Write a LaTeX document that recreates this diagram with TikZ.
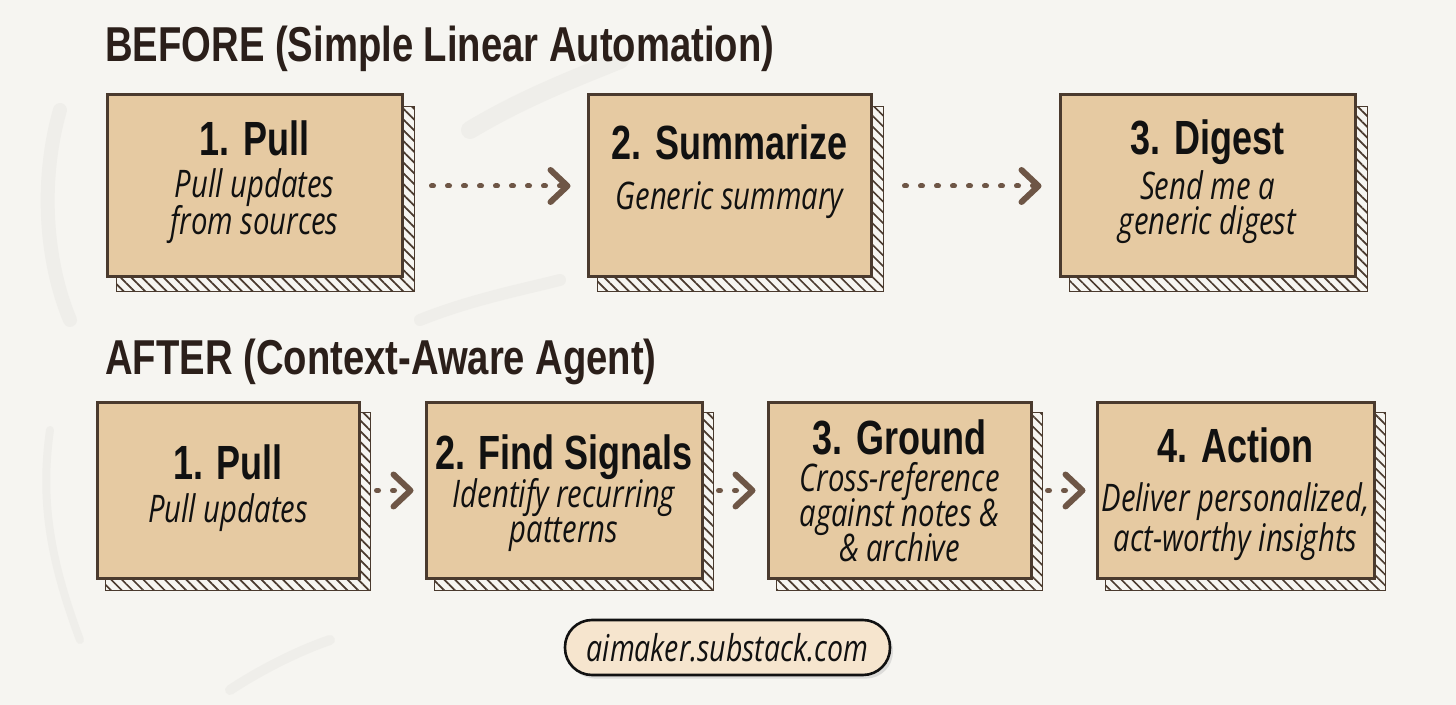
\documentclass[tikz,border=0pt]{standalone}
\usepackage{fontspec}
\newfontfamily\headfont[FakeStretch=0.78]{Liberation Sans}
\newfontfamily\boxheadfont[FakeStretch=0.75]{Liberation Sans}
\newfontfamily\handfont[FakeStretch=0.77]{Open Sans}
\usetikzlibrary{arrows.meta,patterns.meta,backgrounds,shadows}
\definecolor{paper}{RGB}{246,245,241}
\definecolor{streak}{RGB}{228,227,223}
\definecolor{boxfill}{RGB}{230,202,162}
\definecolor{boxline}{RGB}{74,58,46}
\definecolor{titlecol}{RGB}{43,31,26}
\definecolor{arrowcol}{RGB}{110,86,70}
\definecolor{pillfill}{RGB}{246,229,206}
\definecolor{inkcol}{RGB}{17,17,17}
\begin{document}
\begin{tikzpicture}[x=0.5pt,y=-0.5pt,
  stepbox/.style={draw=boxline, line width=1.5pt, fill=boxfill, inner sep=0pt},
  hatchbox/.style={draw=boxline, line width=0.9pt, fill=white,
    pattern={Lines[angle=-45,distance=3.8pt,line width=0.85pt]}, pattern color=boxline},
  sectitle/.style={anchor=base west, inner sep=0pt, text=titlecol,
    font=\headfont\bfseries\fontsize{24.5}{28}\selectfont},
  head/.style={anchor=base, inner sep=0pt, text=inkcol,
    font=\boxheadfont\bfseries\fontsize{24}{28}\selectfont},
  sub/.style={anchor=base, inner sep=0pt, text=inkcol,
    font=\handfont\itshape\fontsize{19}{22}\selectfont},
  flow/.style={draw=arrowcol, line width=2.5pt, line cap=round,
    dash pattern=on 1pt off 7pt,
    -{Straight Barb[length=8.5pt,width=16pt,line width=3pt,round]}},
  pill/.style={draw=inkcol, line width=1.3pt, fill=pillfill, rounded corners=13.5pt,
    minimum width=162.5pt, minimum height=27.5pt, inner sep=0pt,
    drop shadow={shadow xshift=1.5pt, shadow yshift=-1.8pt, fill=black!25, opacity=0.45},
    font=\handfont\itshape\fontsize{18.5}{22}\selectfont, text=inkcol}
]
\useasboundingbox (0,0) rectangle (1456,705);

% paper
\begin{scope}[on background layer]
  \fill[paper] (0,0) rectangle (1456,705);
  \begin{scope}[streak, line cap=round, opacity=0.35]
    \draw[line width=7pt] (60,110) .. controls (40,180) and (45,260) .. (70,320);
    \draw[line width=4pt] (50,430) .. controls (40,500) and (50,560) .. (80,640);
    \draw[line width=9pt] (470,130) .. controls (520,100) and (570,80) .. (620,60);
    \draw[line width=6pt] (420,320) .. controls (470,300) and (520,290) .. (560,280);
    \draw[line width=5pt] (230,690) .. controls (260,670) and (300,650) .. (330,640);
  \end{scope}
\end{scope}

% titles
\node[sectitle] (t1) at (105,62) {BEFORE (Simple Linear Automation)};
\node[sectitle] (t2) at (105,375) {AFTER (Context-Aware Agent)};

% top row
\node[stepbox, minimum width=147.5pt, minimum height=91pt] (a1) at (254.5,186) {};
\node[stepbox, minimum width=141.5pt, minimum height=91pt] (a2) at (729.5,186) {};
\node[stepbox, minimum width=147.5pt, minimum height=91pt] (a3) at (1207.5,186) {};

\node[head] (a1h) at (254.5,156) {1. Pull};
\node[sub] (a1s1) at (254.5,198) {Pull updates};
\node[sub] (a1s2) at (254.5,235) {from sources};

\node[head] (a2h) at (729.5,160) {2. Summarize};
\node[sub] (a2s1) at (729.5,210) {Generic summary};

\node[head] (a3h) at (1207.5,155) {3. Digest};
\node[sub] (a3s1) at (1207.5,200) {Send me a};
\node[sub] (a3s2) at (1207.5,235) {generic digest};

% bottom row
\node[stepbox, minimum width=131pt, minimum height=87.5pt] (c1) at (228,490.5) {};
\node[stepbox, minimum width=138pt, minimum height=87.5pt] (c2) at (564,490.5) {};
\node[stepbox, minimum width=131.5pt, minimum height=87.5pt] (c3) at (899.5,490.5) {};
\node[stepbox, minimum width=138.5pt, minimum height=87.5pt] (c4) at (1235.5,490.5) {};

\node[head] (c1h) at (228,480) {1. Pull};
\node[sub] (c1s1) at (228,522) {Pull updates};

\node[head] (c2h) at (564,469) {2. Find Signals};
\node[sub] (c2s1) at (564,507) {Identify recurring};
\node[sub] (c2s2) at (564,542) {patterns};

\node[head] (c3h) at (899.5,454) {3. Ground};
\node[sub] (c3s1) at (899.5,491) {Cross-reference};
\node[sub] (c3s2) at (899.5,526) {against notes \&};
\node[sub] (c3s3) at (899.5,561) {\& archive};

\node[head] (c4h) at (1235.5,462) {4. Action};
\node[sub] (c4s1) at (1235.5,511) {Deliver personalized,};
\node[sub] (c4s2) at (1235.5,551) {act-worthy insights};

% hatched shadows
\begin{scope}[on background layer]
  \foreach \n in {a1,a2,a3}{
    \draw[hatchbox] ([shift={(11,13)}]\n.south west) rectangle ([shift={(11,13)}]\n.north east);
  }
  \foreach \n in {c1,c2,c3,c4}{
    \draw[hatchbox] ([shift={(10,11)}]\n.south west) rectangle ([shift={(10,11)}]\n.north east);
  }
\end{scope}

% connectors
\draw[flow, shorten <=14pt, shorten >=8pt] (a1.east) -- (a2.west);
\draw[flow, shorten <=16pt, shorten >=8.5pt] (a2.east) -- (a3.west);
\draw[flow, shorten <=8pt, shorten >=5.5pt] (c1.east) -- (c2.west);
\draw[flow, shorten <=7.5pt, shorten >=5.5pt] (c2.east) -- (c3.west);
\draw[flow, shorten <=7.5pt, shorten >=5pt] (c3.east) -- (c4.west);

% footer
\node[pill] (url) at (727.5,647.5) {aimaker.substack.com};
\end{tikzpicture}
\end{document}
